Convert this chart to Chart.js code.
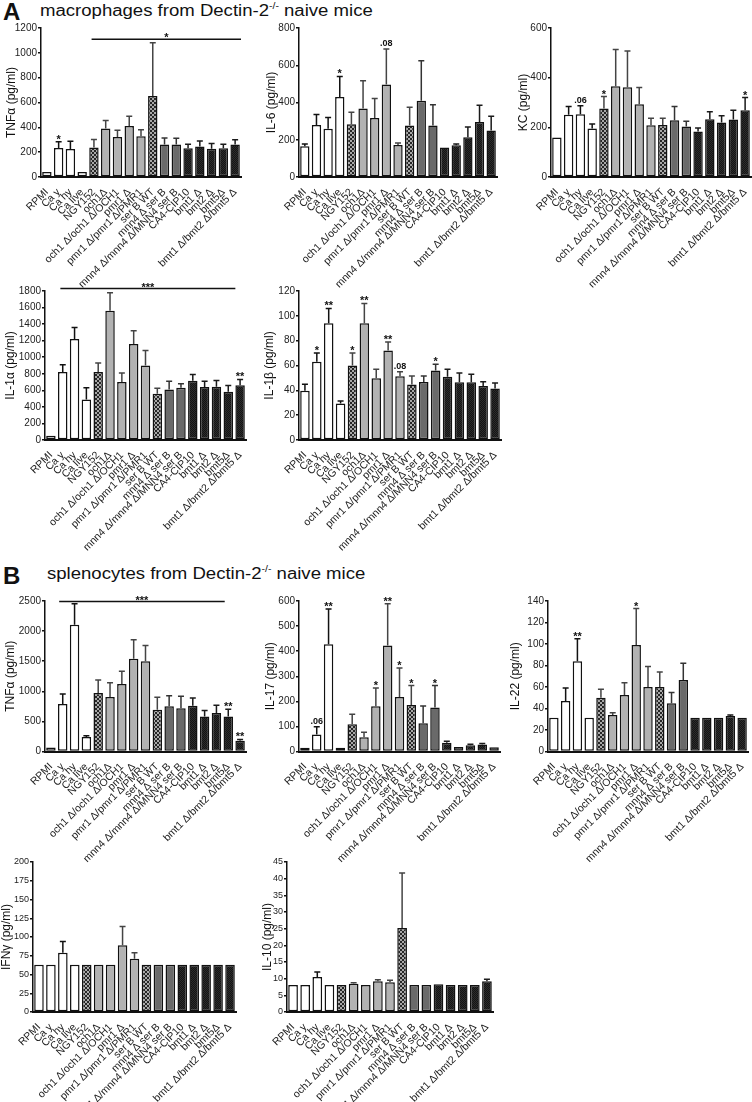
<!DOCTYPE html>
<html><head><meta charset="utf-8">
<script src="https://cdn.jsdelivr.net/npm/chart.js@4.4.1/dist/chart.umd.min.js"></script>
<style>
html,body{margin:0;padding:0;background:#fff;}
body{width:752px;height:1102px;position:relative;overflow:hidden;font-family:'Liberation Sans',Arial,sans-serif;color:#111;}
canvas{position:absolute;}
.lbl{position:absolute;font-weight:bold;font-size:24px;line-height:24px;}
.hd{position:absolute;font-size:16px;line-height:16px;white-space:nowrap;transform:scaleX(1.16);transform-origin:0 0;}
.hd sup{font-size:9px;line-height:0;position:relative;top:-1px;}
</style></head><body>
<div class="lbl" style="left:3px;top:0px">A</div>
<div class="hd" style="left:40px;top:3px">macrophages from Dectin-2<sup>-/-</sup> naive mice</div>
<div class="lbl" style="left:3px;top:564px">B</div>
<div class="hd" style="left:47px;top:566px">splenocytes from Dectin-2<sup>-/-</sup> naive mice</div>
<canvas id="c1"></canvas><canvas id="c2"></canvas><canvas id="c3"></canvas>
<canvas id="c4"></canvas><canvas id="c5"></canvas>
<canvas id="c6"></canvas><canvas id="c7"></canvas><canvas id="c8"></canvas>
<canvas id="c9"></canvas><canvas id="c10"></canvas>
<script>
// ---------- data ----------
const categories = ['RPMI','Ca y','Ca hy','Ca live','NGY152','och1Δ','och1 Δ/och1 Δ/OCH1','pmr1 Δ','pmr1 Δ/pmr1 Δ/PMR1','ser B WT','mnn4 Δ ser B','mnn4 Δ/mnn4 Δ/MNN4 ser B','CA4-CIP10','bmt1 Δ','bmt2 Δ','bmt5Δ','bmt1 Δ/bmt2 Δ/bmt5 Δ'];
const strainGroup = ['white','white','white','white','check','light','light','light','light','check','dark','dark','black','black','black','black','black'];

// A: macrophages
const macTNF    = [40,233,226,40,237,390,323,411,328,652,262,262,232,246,227,232,262];
const macTNFSem = [0,50,62,0,65,66,54,78,52,430,53,51,32,43,43,32,37];
const macTNFSig = ['','*','','','','','','','','','','','','','','',''];
const macTNFBracket = {from:3.8, to:16.5, value:1110, text:'*'};

const macIL6    = [165,279,259,429,283,368,317,497,172,277,410,277,159,170,213,295,250];
const macIL6Sem = [12,56,61,111,64,149,105,190,10,97,214,111,0,7,55,90,76];
const macIL6Sig = ['','','','*','','','','.08','','','','','','','','',''];

const macKC    = [159,251,253,195,276,365,361,293,208,209,229,203,183,233,219,232,269];
const macKCSem = [0,33,34,18,48,148,146,67,29,28,55,22,14,30,28,37,51];
const macKCSig = ['','','.06','','*','','','','','','','','','','','','*'];

const macIL1a    = [50,820,1220,490,820,1560,700,1160,900,560,610,630,715,640,644,584,660];
const macIL1aSem = [0,90,140,140,110,220,108,160,180,65,100,50,75,70,76,74,72];
const macIL1aSig = ['','','','','','','','','','','','','','','','','**'];
const macIL1aBracket = {from:0.8, to:15.6, value:1830, text:'***'};

const macIL1b    = [39.7,63,94,29.4,60,94,49.7,72,51.3,44.7,46.8,56,51,46.6,46.6,43.4,41.5];
const macIL1bSem = [5.3,7,12,2.1,10,16,7.3,7,3.7,6.9,4.8,5,6,7.4,6.4,3.6,4.5];
const macIL1bSig = ['','*','**','','*','**','','**','.08','','','*','','','','',''];

// B: splenocytes
const splTNF    = [65,789,2106,239,972,906,1122,1539,1500,694,750,717,761,583,639,583,180];
const splTNFSem = [0,167,350,22,217,238,211,317,261,206,178,200,128,100,128,117,20];
const splTNFSig = ['','','','','','','','','','','','','','','','**','**'];
const splTNFBracket = {from:0.7, to:14.7, value:2490, text:'***'};

const splIL17    = [15,68,428,15,109,57,180,423,217,185,113,175,35,18,25,28,17];
const splIL17Sem = [0,31,140,0,40,20,73,166,116,78,68,88,6,0,4,4,0];
const splIL17Sig = ['','.06','**','','','','*','**','*','*','','*','','','','',''];

const splIL22    = [31.5,47,84,31.5,50,34,52.5,99,60,60,45,66.5,31.5,31.5,31.5,33,31.5];
const splIL22Sem = [0,12,21,0,8,2,11.5,34,19,14,10,15.5,0,0,0,1,0];
const splIL22Sig = ['','','**','','','','','*','','','','','','','','',''];

const splIFNg    = [63,63,79,63,63,63,63,89,71,63,63,63,63,63,63,63,63];
const splIFNgSem = [0,0,15,0,0,0,0,25,8,0,0,0,0,0,0,0,0];

const splIL10    = [8.1,8.1,10.5,8.1,8.1,8.5,8.1,9.2,8.9,25.2,8.1,8.1,8.3,8.1,8.1,8.1,9.2];
const splIL10Sem = [0,0,1.5,0,0,0.3,0,0.5,0.6,16.5,0,0,0,0,0,0,0.6];

// ---------- styling ----------
const FONT = "'Liberation Sans', Arial, Helvetica, sans-serif";
function pattern(c1, c2, cell){
  const cv = document.createElement('canvas'); cv.width = cell*2; cv.height = cell*2;
  const g = cv.getContext('2d');
  g.fillStyle = c1; g.fillRect(0,0,cell*2,cell*2);
  g.fillStyle = c2; g.fillRect(0,0,cell,cell); g.fillRect(cell,cell,cell,cell);
  return g.createPattern(cv,'repeat');
}
const fills = {
  white:'#ffffff',
  check: pattern('#a8a8a8','#262626',2),
  light:'#b2b2b2',
  dark:'#6a6a6a',
  black: pattern('#141414','#2c2c2c',1)
};
const errColor = {white:'#111',check:'#444',light:'#444',dark:'#333',black:'#1a1a1a'};

function overlay(values, sem, sig, bracket){
  return {id:'overlay', afterDatasetsDraw(chart){
    const ctx = chart.ctx, xs = chart.scales.x, ys = chart.scales.y;
    const meta = chart.getDatasetMeta(0);
    ctx.save();
    meta.data.forEach((bar,i)=>{
      let top = bar.y;
      if (sem[i] > 0){
        const ey = ys.getPixelForValue(values[i] + sem[i]);
        ctx.strokeStyle = errColor[strainGroup[i]]; ctx.lineWidth = 1.5;
        ctx.beginPath();
        ctx.moveTo(bar.x, bar.y); ctx.lineTo(bar.x, ey);
        ctx.moveTo(bar.x-3, ey); ctx.lineTo(bar.x+3, ey);
        ctx.stroke();
        top = ey;
      }
      const s = sig ? sig[i] : '';
      if (s){
        ctx.fillStyle = '#111'; ctx.textAlign = 'center'; ctx.textBaseline = 'alphabetic';
        if (s[0] === '.'){ ctx.font = 'bold 9px ' + FONT; ctx.fillText(s, bar.x, top - 3); }
        else { ctx.font = 'bold 11px ' + FONT; ctx.fillText(s, bar.x, top + 1); }
      }
    });
    if (bracket){
      const cw = xs.getPixelForValue(1) - xs.getPixelForValue(0);
      const x0 = xs.getPixelForValue(0) + bracket.from*cw;
      const x1 = xs.getPixelForValue(0) + bracket.to*cw;
      const ly = ys.getPixelForValue(bracket.value);
      ctx.strokeStyle = '#111'; ctx.lineWidth = 1.5;
      ctx.beginPath(); ctx.moveTo(x0, ly); ctx.lineTo(x1, ly); ctx.stroke();
      ctx.fillStyle = '#111'; ctx.textAlign = 'center'; ctx.textBaseline = 'alphabetic';
      ctx.font = 'bold 11px ' + FONT;
      ctx.fillText(bracket.text, (x0+x1)/2, ly + 2);
    }
    ctx.restore();
  }};
}

function makeChart(id, box, title, values, sem, sig, bracket, max, step, tickSize){
  const cv = document.getElementById(id);
  const w = box.w, h = box.bottom - box.top;
  cv.width = w; cv.height = h;
  cv.style.left = box.left + 'px'; cv.style.top = box.top + 'px';
  const yw = box.areaLeft - box.left;
  const xh = box.bottom - box.areaBottom;
  new Chart(cv, {
    type:'bar',
    data:{labels:categories, datasets:[{
      data: values,
      backgroundColor: strainGroup.map(g=>fills[g]),
      borderColor:'#111', borderWidth:1.5, borderSkipped:false,
      barPercentage:0.8, categoryPercentage:1
    }]},
    options:{
      responsive:false, animation:false, devicePixelRatio:1,
      layout:{padding:{top: box.areaTop - box.top, right: (box.left + w) - box.areaRight, left:0, bottom:0}},
      plugins:{legend:{display:false}, tooltip:{enabled:false}},
      scales:{
        x:{
          grid:{display:false},
          border:{display:true, color:'#111', width:2},
          ticks:{autoSkip:false, maxRotation:45, minRotation:45, padding:1, color:'#222', font:{family:FONT, size:10.5}},
          afterFit:(s)=>{ s.height = xh; }
        },
        y:{
          min:0, max:max,
          ticks:{stepSize:step, padding:1, color:'#222', font:{family:FONT, size:tickSize}, callback:(v)=>String(v)},
          grid:{drawOnChartArea:false, drawTicks:true, tickLength:3, color:'#111', lineWidth:1.5},
          border:{display:true, color:'#111', width:1.5},
          title:{display:true, text:title, color:'#111', font:{family:FONT, size:12}, padding:{top:4, bottom:2}},
          afterFit:(s)=>{ s.width = yw; }
        }
      }
    },
    plugins:[overlay(values, sem, sig, bracket)]
  });
}

makeChart('c1', {left:0,   top:20, w:250, areaLeft:41,  areaRight:241, areaTop:28, areaBottom:177, bottom:300}, 'TNFα (pg/ml)', macTNF, macTNFSem, macTNFSig, macTNFBracket, 1200, 200, 10);
makeChart('c2', {left:260, top:20, w:247, areaLeft:299, areaRight:497, areaTop:28, areaBottom:177, bottom:300}, 'IL-6 (pg/ml)', macIL6, macIL6Sem, macIL6Sig, null, 800, 200, 10);
makeChart('c3', {left:512, top:20, w:248, areaLeft:551, areaRight:751, areaTop:28, areaBottom:177, bottom:300}, 'KC (pg/ml)', macKC, macKCSem, macKCSig, null, 600, 200, 10);
makeChart('c4', {left:-1,  top:282, w:256, areaLeft:45,  areaRight:246, areaTop:291, areaBottom:440, bottom:565}, 'IL-1α (pg/ml)', macIL1a, macIL1aSem, macIL1aSig, macIL1aBracket, 1800, 200, 10);
makeChart('c5', {left:258, top:282, w:252, areaLeft:299, areaRight:501, areaTop:291, areaBottom:440, bottom:565}, 'IL-1β (pg/ml)', macIL1b, macIL1bSem, macIL1bSig, null, 120, 20, 10);
makeChart('c6', {left:-1,  top:592, w:256, areaLeft:45,  areaRight:246, areaTop:601, areaBottom:751.5, bottom:870}, 'TNFα (pg/ml)', splTNF, splTNFSem, splTNFSig, splTNFBracket, 2500, 500, 10);
makeChart('c7', {left:259, top:592, w:250, areaLeft:299, areaRight:500, areaTop:601, areaBottom:751.5, bottom:870}, 'IL-17 (pg/ml)', splIL17, splIL17Sem, splIL17Sig, null, 600, 100, 10);
makeChart('c8', {left:504, top:592, w:253, areaLeft:548, areaRight:748, areaTop:601, areaBottom:751.5, bottom:870}, 'IL-22 (pg/ml)', splIL22, splIL22Sem, splIL22Sig, null, 140, 20, 10);
makeChart('c9', {left:-5,  top:853, w:250, areaLeft:33,  areaRight:236, areaTop:862, areaBottom:1012, bottom:1102}, 'IFNγ (pg/ml)', splIFNg, splIFNgSem, null, null, 200, 25, 9);
makeChart('c10',{left:256, top:853, w:246, areaLeft:287, areaRight:493, areaTop:862, areaBottom:1012, bottom:1102}, 'IL-10 (pg/ml)', splIL10, splIL10Sem, null, null, 45, 5, 9);
</script>
</body></html>
